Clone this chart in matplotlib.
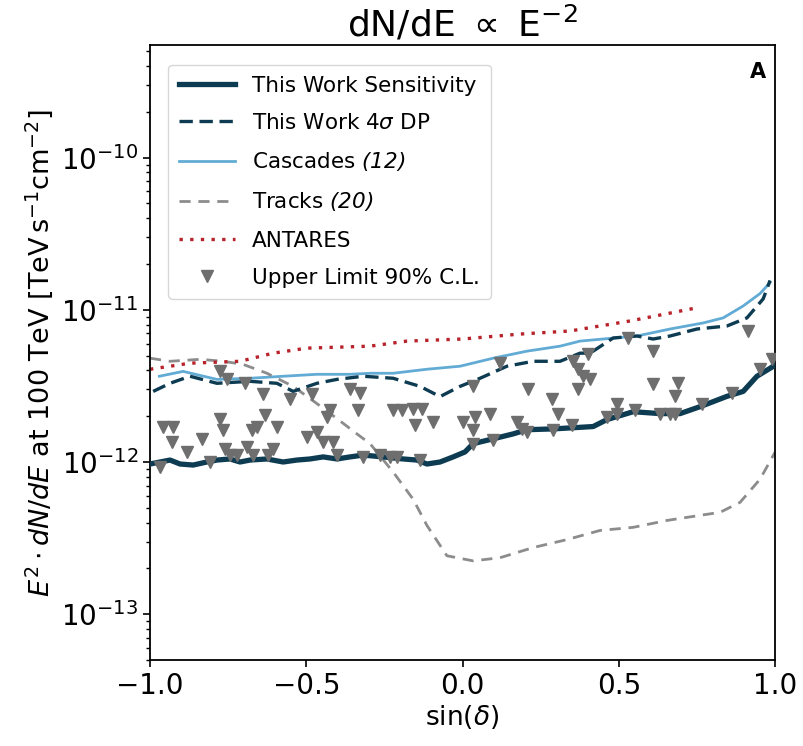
"""Point-source sensitivity vs declination, dN/dE ~ E^-2 (panel A)."""
import numpy as np
import matplotlib
matplotlib.use("Agg")
import matplotlib.pyplot as plt

plt.rcParams["font.family"] = "DejaVu Sans"
plt.rcParams["mathtext.fontset"] = "custom"
plt.rcParams["mathtext.rm"] = "DejaVu Sans"
plt.rcParams["mathtext.it"] = "DejaVu Sans:italic"
plt.rcParams["mathtext.bf"] = "DejaVu Sans:bold"
plt.rcParams["mathtext.sf"] = "DejaVu Sans:italic"   # used for the italic refs
plt.rcParams["mathtext.fallback"] = "stixsans"

UNIT = 1e-12  # all flux lists below are in units of 1e-12 TeV s^-1 cm^-2

# ── This work sensitivity ─────────────────────────────────────────────────────
sens_x = [-1.0, -0.968, -0.936, -0.904, -0.862, -0.818, -0.786, -0.744, -0.712,
          -0.68, -0.626, -0.574, -0.53, -0.488, -0.446, -0.402, -0.36, -0.318,
          -0.254, -0.19, -0.146, -0.114, -0.072, -0.03, 0.008, 0.034, 0.098,
          0.162, 0.206, 0.29, 0.418, 0.462, 0.546, 0.632, 0.696, 0.76, 0.846,
          0.898, 0.942, 0.99, 1.0]
sens_y = [0.97, 1.00, 1.03, 0.97, 0.955, 1.00, 1.03, 1.047, 1.00,
          1.03, 1.047, 1.00, 1.03, 1.047, 1.08, 1.047, 1.08, 1.11,
          1.08, 1.047, 1.03, 0.97, 1.00, 1.08, 1.165, 1.32, 1.42,
          1.53, 1.63, 1.65, 1.71, 1.90, 2.14, 2.08, 2.08, 2.31, 2.70,
          2.91, 3.66, 4.20, 4.40]

# ── This work 4 sigma discovery potential ─────────────────────────────────────
dp_x = [-0.99, -0.936, -0.872, -0.786, -0.68, -0.594, -0.542, -0.466, -0.402,
        -0.318, -0.222, -0.136, -0.072, -0.008, 0.056, 0.142, 0.226, 0.312,
        0.376, 0.408, 0.482, 0.558, 0.61, 0.664, 0.75, 0.846, 0.91, 0.962, 0.984]
dp_y = [2.91, 3.29, 3.66, 3.29, 3.39, 3.29, 2.91, 3.29, 3.49,
        3.66, 3.55, 3.14, 2.69, 3.14, 3.55, 4.26, 4.59, 4.59,
        5.19, 5.19, 6.53, 6.73, 6.43, 6.73, 7.48, 7.83, 8.85, 11.8, 15.6]

# ── Cascades (12) ─────────────────────────────────────────────────────────────
casc_x = [-0.97, -0.894, -0.786, -0.68, -0.574, -0.466, -0.36, -0.296, -0.222,
          -0.114, -0.008, 0.098, 0.206, 0.312, 0.376, 0.45, 0.558, 0.664,
          0.77, 0.834, 0.898, 0.952, 0.984]
casc_y = [3.66, 3.94, 3.49, 3.55, 3.66, 3.77, 3.77, 3.83, 3.83,
          4.07, 4.26, 4.81, 5.35, 5.77, 6.23, 6.43, 6.73, 7.48,
          8.20, 8.85, 10.6, 12.8, 15.1]

# ── Tracks (20) ───────────────────────────────────────────────────────────────
trk_x = [-1.0, -0.936, -0.84, -0.766, -0.702, -0.626, -0.542, -0.466, -0.402,
         -0.338, -0.296, -0.222, -0.158, -0.114, -0.05, 0.034, 0.12, 0.226,
         0.334, 0.44, 0.546, 0.654, 0.76, 0.824, 0.888, 0.952, 1.0]
trk_y = [4.81, 4.59, 4.73, 4.59, 4.38, 3.83, 3.14, 2.42, 1.93,
         1.53, 1.32, 0.859, 0.569, 0.383, 0.242, 0.224, 0.235, 0.274,
         0.309, 0.355, 0.372, 0.413, 0.446, 0.467, 0.543, 0.771, 1.16]

# ── ANTARES ───────────────────────────────────────────────────────────────────
ant_x = [-1.0, -0.872, -0.712, -0.606, -0.498, -0.296, -0.178, 0.0, 0.184,
         0.344, 0.536, 0.738]
ant_y = [4.07, 4.46, 4.59, 5.19, 5.60, 5.77, 6.23, 6.43, 6.93,
         7.26, 8.45, 10.2]

# ── Upper limits 90% C.L. (per source) ────────────────────────────────────────
ul_x = [-0.968, -0.958, -0.926, -0.930, -0.882, -0.834, -0.808, -0.776, -0.754,
        -0.776, -0.766, -0.760, -0.744, -0.722, -0.696, -0.690, -0.674, -0.658,
        -0.670, -0.638, -0.632, -0.594, -0.606, -0.622, -0.552, -0.498, -0.482,
        -0.466, -0.446, -0.424, -0.434, -0.414, -0.402, -0.360, -0.328, -0.334,
        -0.318, -0.264, -0.232, -0.222, -0.194, -0.158, -0.130, -0.152, -0.094,
        -0.136, -0.210, 0.002, 0.040, 0.034, 0.034, 0.034, 0.088, 0.098,
        0.120, 0.174, 0.190, 0.206, 0.210, 0.286, 0.306, 0.290, 0.350,
        0.354, 0.370, 0.386, 0.408, 0.402, 0.370, 0.462, 0.494, 0.494,
        0.530, 0.552, 0.610, 0.610, 0.632, 0.664, 0.690, 0.680, 0.680,
        0.766, 0.862, 0.914, 0.952, 0.990]
ul_y = [0.93, 1.71, 1.71, 1.36, 1.17, 1.42, 1.00, 3.95, 3.49,
        1.93, 1.63, 1.22, 1.11, 1.11, 3.29, 1.26, 1.63, 1.71,
        1.11, 2.78, 2.05, 1.71, 1.22, 1.11, 2.61, 1.46, 2.78,
        1.58, 1.36, 2.21, 1.99, 1.36, 1.11, 3.00, 2.82, 2.21,
        1.08, 1.11, 1.08, 2.21, 2.21, 2.24, 2.24, 1.76, 1.84,
        1.03, 1.08, 1.84, 1.99, 1.63, 3.14, 1.32, 2.08, 1.40,
        4.46, 1.84, 1.65, 1.58, 3.04, 2.61, 2.08, 1.63, 1.76,
        4.60, 4.07, 3.66, 3.49, 5.11, 3.04, 1.99, 2.42, 2.08,
        6.53, 2.21, 5.35, 3.24, 2.08, 2.08, 3.29, 2.70, 2.08,
        2.39, 2.82, 7.26, 4.07, 4.74]

# ── Plot ──────────────────────────────────────────────────────────────────────
DARK = "#0d3b52"
fig = plt.figure(figsize=(8.04, 7.46), dpi=100)
ax = fig.add_axes([0.1866, 0.1153, 0.7774, 0.8244])

ax.plot(sens_x, np.array(sens_y) * UNIT, color=DARK, lw=3.8,
        label="This Work Sensitivity", zorder=3)
ax.plot(dp_x, np.array(dp_y) * UNIT, color=DARK, lw=2.4, ls=(0, (4, 2)),
        label=r"This Work 4$\sigma$ DP", zorder=3)
ax.plot(casc_x, np.array(casc_y) * UNIT, color="#62abd5", lw=2.0,
        label=r"Cascades $\mathsf{(12)}$", zorder=2)
ax.plot(trk_x, np.array(trk_y) * UNIT, color="#8c8c8c", lw=2.0, ls=(0, (4, 2.8)),
        label=r"Tracks $\mathsf{(20)}$", zorder=2)
ax.plot(ant_x, np.array(ant_y) * UNIT, color="#b8232b", lw=2.4, ls=(0, (1, 2.2)),
        label="ANTARES", zorder=2)
ax.plot(ul_x, np.array(ul_y) * UNIT, ls="none", marker="v", ms=9,
        color="#6e6e6e", mec="#6e6e6e", label="Upper Limit 90% C.L.", zorder=4)

ax.set_yscale("log")
ax.set_xlim(-1.0, 1.0)
ax.set_ylim(5e-14, 5.5e-10)
ax.set_xticks([-1.0, -0.5, 0.0, 0.5, 1.0])
ax.tick_params(axis="both", which="major", labelsize=20, length=5, width=1.2)
ax.tick_params(axis="y", which="minor", length=3, width=1.0)
for spine in ax.spines.values():
    spine.set_linewidth(1.3)

ax.set_xlabel(r"sin($\delta$)", fontsize=19, labelpad=2)
ax.set_ylabel(r"$E^2 \cdot dN/dE$ at 100 TeV [TeV$\,$s$^{-1}$cm$^{-2}$]",
              fontsize=19.5, labelpad=4)
ax.set_title(r"dN/dE $\propto$ E$^{-2}$", fontsize=26, pad=6)

ax.text(0.985, 0.972, "A", transform=ax.transAxes, ha="right", va="top",
        fontsize=15, fontweight="bold")

leg = ax.legend(loc="upper left", bbox_to_anchor=(0.012, 0.985), fontsize=15.5,
                handlelength=2.6, labelspacing=0.8, borderpad=0.5,
                fancybox=True, framealpha=0.85, edgecolor="#d0d0d0")

fig.savefig("out.png", dpi=100)
